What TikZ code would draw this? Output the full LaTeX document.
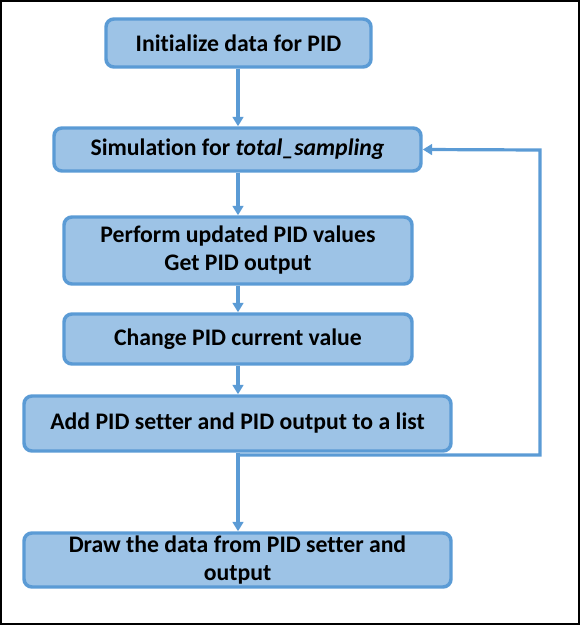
\documentclass[tikz,border=0pt]{standalone}
\usepackage{fontspec}
\setmainfont[Ligatures={NoCommon}]{Carlito}
\usetikzlibrary{arrows.meta}
\definecolor{boxfill}{HTML}{9DC3E6}
\definecolor{boxline}{HTML}{5B9BD5}
\begin{document}
\begin{tikzpicture}[x=0.75pt,y=-0.75pt,
  stepbox/.style={draw=boxline,fill=boxfill,line width=2.6pt,rounded corners=6pt,
    align=center,inner sep=0pt,font=\fontsize{17.8}{21}\selectfont\bfseries},
  conn/.style={draw=boxline,line width=2.4pt,-{Triangle[length=7pt,width=8pt]}}]
\useasboundingbox (0,0) rectangle (580,625);
\draw[black,line width=1.5pt] (1,1) rectangle (579,624);
\node[stepbox,minimum width=198.75pt,minimum height=36pt] (b1) at (238.5,43) {Initialize data for PID};
\node[stepbox,minimum width=275.25pt,minimum height=32.25pt] (b2) at (237.5,149.5) {Simulation for \textit{total\_sampling}};
\node[stepbox,minimum width=261pt,minimum height=50.25pt] (b3) at (238,250.5) {Perform updated PID values\\Get PID output};
\node[stepbox,minimum width=261pt,minimum height=37.5pt] (b4) at (238,339) {Change PID current value};
\node[stepbox,minimum width=320.25pt,minimum height=41.25pt] (b5) at (237.5,423.5) {Add PID setter and PID output to a list};
\node[stepbox,minimum width=320.25pt,minimum height=40.5pt] (b6) at (237.5,560) {Draw the data from PID setter and\\output};
\coordinate (j) at (238,455);
\coordinate (r1) at (540,455);
\coordinate (r2) at (540,150);
\draw[conn] (b1.south -| j) -- (b2.north -| j);
\draw[conn] (b2.south -| j) -- (b3.north -| j);
\draw[conn] (b3.south -| j) -- (b4.north -| j);
\draw[conn] (b4.south -| j) -- (b5.north -| j);
\draw[conn] (b5.south -| j) -- (b6.north -| j);
\draw[conn] (j) -- (r1) -- (r2) -- (b2.east);
\end{tikzpicture}
\end{document}
